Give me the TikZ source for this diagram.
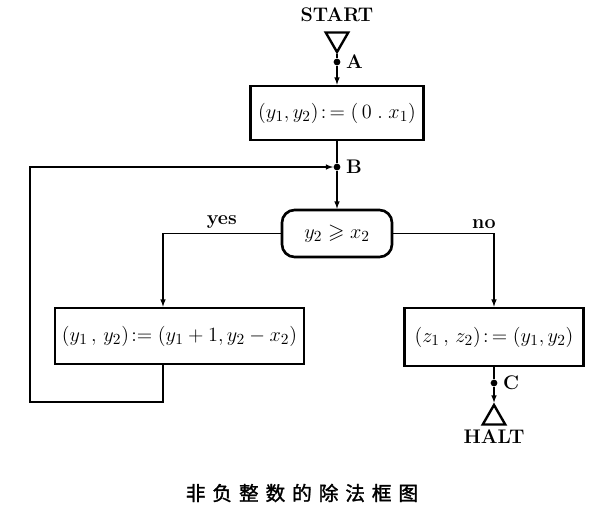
\documentclass[tikz,border=0pt]{standalone}
\usepackage{fontspec}
\usepackage{amsmath,amssymb}
\usepackage{tikz}
\tikzset{>=latex}
\usetikzlibrary{shapes.geometric}
\newfontfamily\cjk[LetterSpace=35,FakeBold=1.5]{Noto Sans CJK SC}
\tikzset{
  box/.style={draw, line width=1.9pt, inner sep=0pt, font=\fontsize{15}{18}\selectfont},
  test/.style={box, rounded corners=9pt},
  dot/.style={circle, fill, inner sep=0pt, minimum size=4.8pt},
  ends/.style={draw, line width=1.7pt, regular polygon, regular polygon sides=3, inner sep=0pt, minimum size=0.65cm},
  tag/.style={font=\fontsize{14}{16}\selectfont\bfseries}
}

\begin{document}
\begin{tikzpicture}[x=0.025cm, y=-0.025cm, line width=0.8pt]
            \useasboundingbox (0, 0) rectangle (599, 519);
            \node[tag] (start) at (337, 15) {START};
            \node[ends, shape border rotate=180] (st) at (337, 39) {};
            \node[dot, label={[tag]right:A}] (a) at (337, 62) {};
            \node[box, minimum width=4.325cm, minimum height=1.35cm] (init) at (337, 113) {$(y_1,y_2)\!:\,=(\,0\;.\;x_1)$};
            \node[dot, label={[tag]right:B}] (b) at (337, 167) {};
            \node[test, minimum width=2.75cm, minimum height=1.175cm] (cmp) at (337, 233.5) {$y_2\geqslant x_2$};
            \node[box, minimum width=6.225cm, minimum height=1.4cm] (step) at (179.5, 336) {$(y_1\,,\,y_2)\!:=(y_1+1,y_2-x_2)$};
            \node[box, minimum width=4.475cm, minimum height=1.45cm] (done) at (494, 337) {$(z_1\,,\,z_2)\!:\,=(y_1,y_2)$};
            \node[dot, label={[tag]right:C}] (c) at (494, 383) {};
            \node[ends] (ht) at (494, 418) {};
            \node[tag] (halt) at (494, 437) {HALT};
            \node[font=\cjk\fontsize{14}{16}\selectfont] (title) at (302, 493) {非负整数的除法框图};
            \coordinate (yesx) at (163, 233.5);
            \coordinate (back) at (163, 402);
            \coordinate (backcorner) at (30, 402);
            % main line
            \draw (st.south) -- (a);
            \draw[->] (a) -- (init);
            \draw (init) -- (b);
            \draw[->] (b) -- (cmp);
            % branches
            \draw[->] (cmp.west) -- node[tag, above] {yes} (yesx) -- (yesx |- step.north);
            \draw[->] (cmp.east) -| node[tag, above, pos=0.45] {no} (done.north);
            \draw[->] (step.south -| back) -- (back) -- (backcorner) |- (b);
            \draw (done) -- (c);
            \draw[->] (c) -- (ht.north);
        \end{tikzpicture}
\end{document}
